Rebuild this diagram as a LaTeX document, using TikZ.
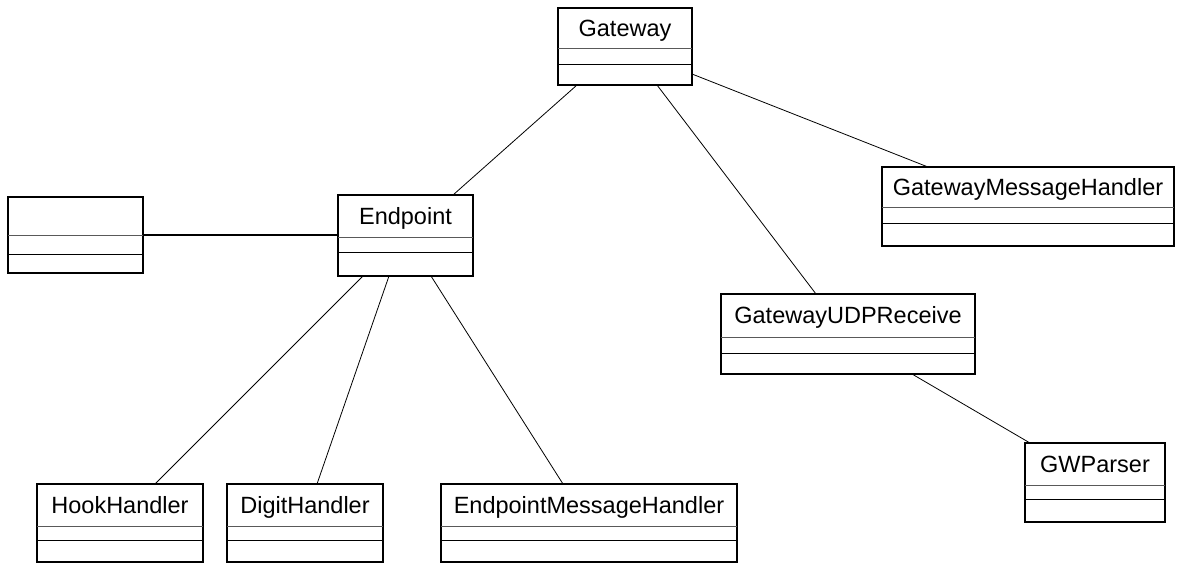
\documentclass[tikz,border=0pt]{standalone}
\usepackage{fontspec}
\setmainfont{Liberation Sans}
\begin{document}
\begin{tikzpicture}[x=1pt,y=-1pt,
  classbox/.style={draw=black, line width=1.4pt, rectangle, inner sep=0pt, outer sep=0pt, fill=white},
  classname/.style={inner sep=0pt, anchor=base, font=\fontsize{23.5}{27}\selectfont},
  divone/.style={draw=black!65, line width=1pt},
  divtwo/.style={draw=black, line width=1pt},
  assoc/.style={draw=black, line width=0.8pt},
  assocthick/.style={draw=black, line width=1.6pt}]
\useasboundingbox (0,0) rectangle (1178,563);
\newcommand\umlclass[8]{%
  \node[classbox, minimum width={(#3-#2)*1pt}, minimum height={(#7-#4)*1pt}] (#1) at ({(#2+#3)/2},{(#4+#7)/2}) {};
  \node[classname] (#1-t) at ({(#2+#3)/2},{(#4+#5)/2+8.4}) {#8};
  \draw[divone] (#1.west |- 0,#5) -- (#1.east |- 0,#5);
  \draw[divtwo] (#1.west |- 0,#6) -- (#1.east |- 0,#6);
}
\umlclass{gw}{558}{692}{8}{48}{64}{85}{Gateway}
\umlclass{lb}{8}{143}{197}{235}{254}{273}{}
\umlclass{ep}{338}{473}{195}{237}{252}{276}{Endpoint}
\umlclass{gmh}{882}{1174}{167}{207}{223}{246}{GatewayMessageHandler}
\umlclass{udp}{721}{975}{294}{337}{353}{374}{GatewayUDPReceive}
\umlclass{gwp}{1025}{1165}{443}{485}{499}{522}{GWParser}
\umlclass{hook}{37}{203}{484}{526}{540}{562}{HookHandler}
\umlclass{digit}{227}{383}{484}{526}{540}{562}{DigitHandler}
\umlclass{emh}{441}{737}{484}{526}{540}{562}{EndpointMessageHandler}
% associations
\draw[assoc] ([xshift=19pt]gw.south west) -- ([xshift=115pt]ep.north west);
\draw[assoc] ([xshift=99pt]gw.south west) -- ([xshift=95pt]udp.north west);
\draw[assoc] ([yshift=11pt]gw.south east) -- ([xshift=46pt]gmh.north west);
\draw[assocthick] (lb.east) -- (ep.west |- lb.east);
\draw[assoc] ([xshift=25pt]ep.south west) -- ([xshift=118pt]hook.north west);
\draw[assoc] ([xshift=51pt]ep.south west) -- ([xshift=90pt]digit.north west);
\draw[assoc] ([xshift=93pt]ep.south west) -- ([xshift=122pt]emh.north west);
\draw[assoc] ([xshift=191pt]udp.south west) -- ([xshift=5pt]gwp.north west);
\end{tikzpicture}
\end{document}
